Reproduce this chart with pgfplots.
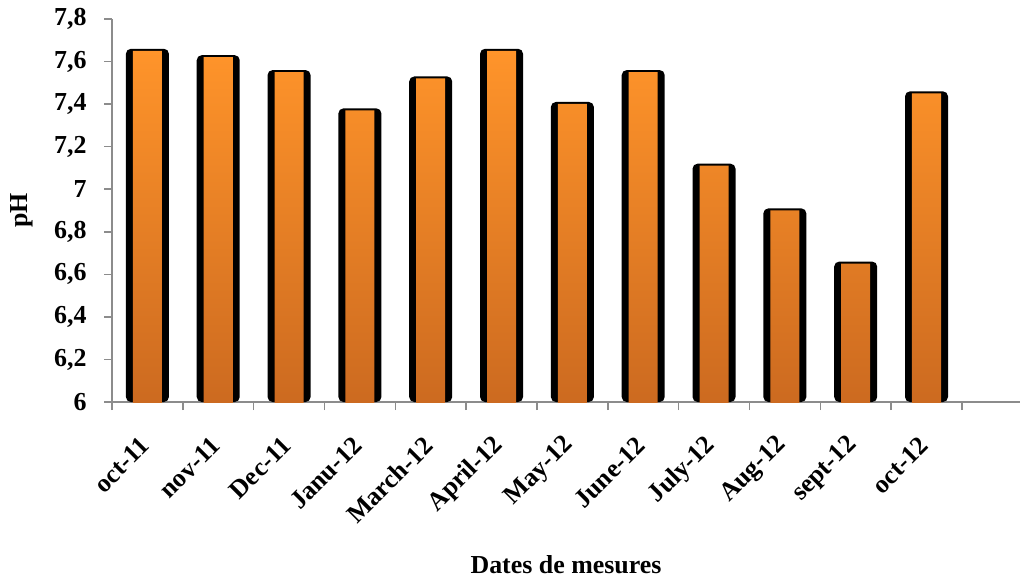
\documentclass[border=0pt]{standalone}
\usepackage{pgfplots}
\pgfplotsset{compat=1.18}
\usepackage{fontspec}
\setmainfont{Liberation Serif}
\definecolor{axgray}{RGB}{140,140,140}
\definecolor{orangetop}{RGB}{255,148,42}
\definecolor{orangebot}{RGB}{204,106,32}
\begin{document}
\begin{tikzpicture}
\useasboundingbox (-112bp,-177bp) rectangle (912bp,402bp);
\begin{axis}[
  scale only axis, width=908bp, height=383bp,
  at={(0,0)}, anchor=south west,
  xmin=-0.5, xmax=12.32,
  ymin=6, ymax=7.8,
  axis x line*=bottom, axis y line*=left,
  axis line style={axgray, line width=1.5bp},
  xtick style={axgray, line width=1.5bp},
  ytick style={axgray, line width=1.5bp},
  tick align=outside,
  major tick length=8bp,
  xtick={-0.5,0.5,...,11.5},
  xticklabels={},
  extra x ticks={0,...,11},
  extra x tick labels={oct-11,nov-11,Dec-11,Janu-12,March-12,April-12,May-12,June-12,July-12,Aug-12,sept-12,oct-12},
  extra x tick style={major tick length=0pt, xticklabel style={yshift=-37bp, rotate=45, anchor=east}},
  ytick={6,6.2,6.4,6.6,6.8,7,7.2,7.4,7.6,7.8},
  yticklabels={6,{6,2},{6,4},{6,6},{6,8},7,{7,2},{7,4},{7,6},{7,8}},
  tick label style={font=\bfseries\fontsize{26}{30}\selectfont},
  yticklabel style={xshift=-14bp},
  label style={font=\bfseries\fontsize{26}{30}\selectfont},
  xlabel={Dates de mesures},
  ylabel={pH},
  xlabel style={at={(axis description cs:0.5,-0.4256)}, anchor=center},
  ylabel style={at={(axis description cs:-0.099,0.5)}, anchor=center, rotate=0},
]
\addplot[ybar, bar width=0.607, bar shift=0, fill=black, draw=none, rounded corners=5bp]
  coordinates {(0,7.66)(1,7.63)(2,7.56)(3,7.38)(4,7.53)(5,7.66)(6,7.41)(7,7.56)(8,7.12)(9,6.91)(10,6.66)(11,7.46)};
\addplot[ybar, bar width=0.41, bar shift=0, draw=none, top color=orangetop, bottom color=orangebot, yshift=-2bp]
  coordinates {(0,7.66)(1,7.63)(2,7.56)(3,7.38)(4,7.53)(5,7.66)(6,7.41)(7,7.56)(8,7.12)(9,6.91)(10,6.66)(11,7.46)};
\end{axis}
\end{tikzpicture}
\end{document}
